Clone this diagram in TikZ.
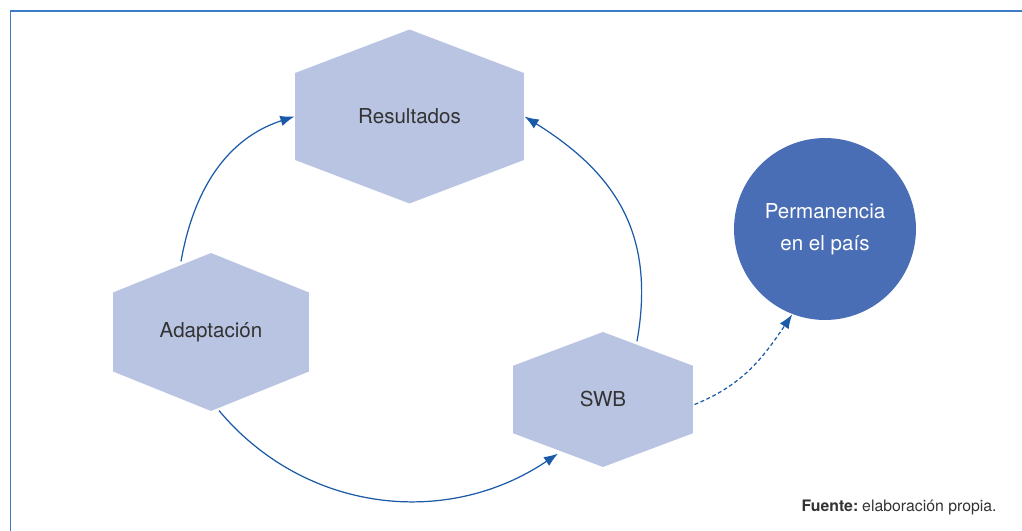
\documentclass[tikz,border=0pt]{standalone}
\usepackage{fontspec}
\setmainfont{TeX Gyre Heros}
\usetikzlibrary{arrows.meta,calc}

\definecolor{hexfill}{HTML}{B9C4E3}
\definecolor{permblue}{HTML}{4A6EB5}
\definecolor{linkblue}{HTML}{1A5AA8}
\definecolor{frameblue}{HTML}{3D7CC6}
\definecolor{labelgray}{HTML}{333333}

\begin{document}
\begin{tikzpicture}[x=.02cm, y=.02cm, >={Latex[length=8pt,width=6pt]}, line width=.7pt,
    font=\fontsize{11.7}{18}\selectfont,
    hexa/.style={inner sep=0pt, text=labelgray,
      path picture={
        \path (path picture bounding box.south west) coordinate (hexsw)
              (path picture bounding box.north east) coordinate (hexne);
        \fill[hexfill] ($(hexsw|-hexne)!.5!(hexne)$) -- ($(hexne)!.25!(hexne|-hexsw)$)
          -- ($(hexne)!.75!(hexne|-hexsw)$) -- ($(hexsw)!.5!(hexne|-hexsw)$)
          -- ($(hexsw)!.25!(hexsw|-hexne)$) -- ($(hexsw)!.75!(hexsw|-hexne)$) -- cycle;
      }},
    link/.style={->, draw=linkblue}]
    \useasboundingbox (0,0) rectangle (1022,531);
    % frame, top and left only
    \draw[frameblue, line width=1.1pt] (10.5,0) -- (10.5,520) -- (1022,520);
    \foreach \nm/\px/\py/\bw/\bh/\txt in {res/409.5/414.5/4.58/3.48/Resultados,
        adapt/211/199/3.92/3.16/Adaptación, swb/603/131.5/3.6/2.7/SWB} {
      \node[hexa, minimum width=\bw cm, minimum height=\bh cm] (\nm) at (\px,\py) {\txt};
    }
    \node[circle, fill=permblue, text=white, minimum size=3.64cm, inner sep=0pt, align=center]
      (perm) at (825,302) {Permanencia\\en el país};
    \draw[link] ([shift={(-30,-9)}]adapt.north) to[out=80, in=198] (res.west);
    \draw[link] ([shift={(8,1)}]adapt.south) to[out=-50, in=214] ([shift={(-45,14)}]swb.south);
    \draw[link] ([shift={(34,-10)}]swb.north) to[out=80, in=-32, looseness=1.1] (res.east);
    \draw[link, dash pattern=on 2.2pt off 1.5pt] ([shift={(1,-5)}]swb.east) to[out=22, in=236] (perm.249);
    \node[anchor=base east, font=\fontsize{9}{11}\selectfont, text=labelgray] (src) at (1003,19)
      {\textbf{Fuente:}\hspace{.25em}elaboración propia.};
  \end{tikzpicture}
\end{document}
